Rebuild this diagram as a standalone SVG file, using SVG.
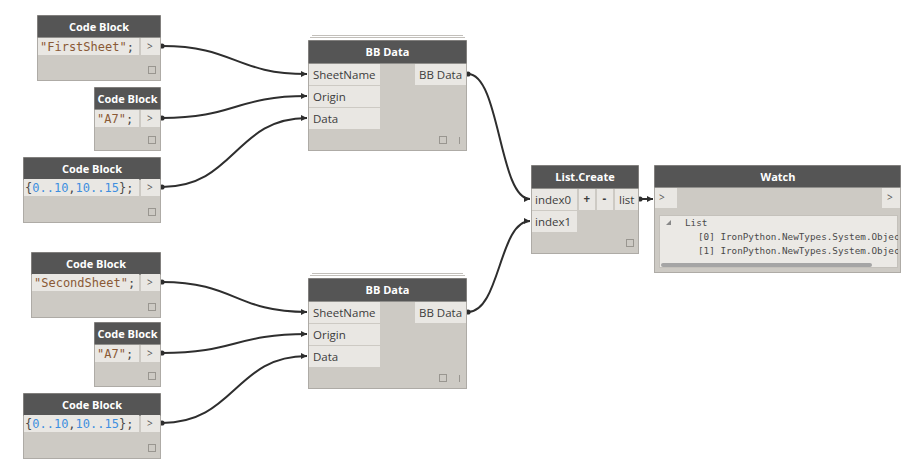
<svg xmlns="http://www.w3.org/2000/svg" width="920" height="472" viewBox="0 0 920 472">
<defs>
<style>
.body{fill:#cdcac4;stroke:#aeaba6;stroke-width:1}
.hdr{fill:#555555}
.row{fill:#e9e7e3}
.btn{fill:#e9e7e3}
.title{font-family:"Open Sans","Noto Sans",sans-serif;font-weight:700;font-size:11px;fill:#ffffff;text-anchor:middle}
.lbl{font-family:"Open Sans","Noto Sans",sans-serif;font-size:11.5px;fill:#3c3c3c}
.code{font-family:"DejaVu Sans Mono","Liberation Mono",monospace;font-size:12px;fill:#4a4a4a}
.str{fill:#8a5a36}
.num{fill:#3e8fe0}
.gt{font-family:"Open Sans","Noto Sans",sans-serif;font-size:10px;fill:#555}
.sq{fill:none;stroke:#999690;stroke-width:1}
.mono{font-family:"DejaVu Sans Mono","Liberation Mono",monospace;font-size:9.3px;fill:#4a4a4a}
.wire{fill:none;stroke:#2e2e2e;stroke-width:2}
.stack{stroke:#c2bfba;stroke-width:1}
</style>
<marker id="ms" markerWidth="6" markerHeight="6" refX="3" refY="3" markerUnits="userSpaceOnUse" orient="auto">
<circle cx="3" cy="3" r="2.6" fill="#2e2e2e"/>
</marker>
<marker id="me" markerWidth="7" markerHeight="8" refX="6" refY="4" markerUnits="userSpaceOnUse" orient="auto">
<path d="M0,1 L6,4 L0,7 Z" fill="#2e2e2e"/>
</marker>
<clipPath id="watchclip"><rect x="659" y="215" width="239" height="53"/></clipPath>
</defs>

<g id="connectors">
<path class="wire" marker-start="url(#ms)" marker-end="url(#me)" d="M162,46 C235,46 235,74 307,74"/>
<path class="wire" marker-start="url(#ms)" marker-end="url(#me)" d="M162,118 C235,118 235,96 307,96"/>
<path class="wire" marker-start="url(#ms)" marker-end="url(#me)" d="M162,187 C235,187 235,118 307,118"/>
<path class="wire" marker-start="url(#ms)" marker-end="url(#me)" d="M162,282 C235,282 235,312 307,312"/>
<path class="wire" marker-start="url(#ms)" marker-end="url(#me)" d="M162,353 C235,353 235,334 307,334"/>
<path class="wire" marker-start="url(#ms)" marker-end="url(#me)" d="M162,423 C235,423 235,356 307,356"/>
<path class="wire" marker-start="url(#ms)" marker-end="url(#me)" d="M468,74 C500,74 499,199 530,199"/>
<path class="wire" marker-start="url(#ms)" marker-end="url(#me)" d="M468,312 C500,312 499,221 530,221"/>
<path class="wire" marker-start="url(#ms)" marker-end="url(#me)" d="M640,199 L653,199"/>
</g>

<g id="cb1">
<rect class="body" x="37.5" y="15.5" width="123" height="65"/>
<rect class="hdr" x="37.5" y="15.5" width="123" height="22"/>
<text class="title" x="99" y="30.5">Code Block</text>
<rect class="row" x="38" y="38" width="101" height="17"/>
<rect class="btn" x="141" y="38" width="19" height="17"/>
<text class="code" x="40" y="51"><tspan class="str">"FirstSheet"</tspan>;</text>
<text class="gt" x="147" y="50">&gt;</text>
<rect class="sq" x="148.5" y="66.5" width="7" height="7"/>
</g>

<g id="cb2">
<rect class="body" x="94.5" y="87.5" width="66" height="63"/>
<rect class="hdr" x="94.5" y="87.5" width="66" height="22"/>
<text class="title" x="127.5" y="102.5">Code Block</text>
<rect class="row" x="95" y="110" width="44" height="17"/>
<rect class="btn" x="141" y="110" width="19" height="17"/>
<text class="code" x="97" y="123"><tspan class="str">"A7"</tspan>;</text>
<text class="gt" x="147" y="122">&gt;</text>
<rect class="sq" x="148.5" y="136.5" width="7" height="7"/>
</g>

<g id="cb3">
<rect class="body" x="23.5" y="157.5" width="137" height="65"/>
<rect class="hdr" x="23.5" y="157.5" width="137" height="22"/>
<text class="title" x="92" y="172.5">Code Block</text>
<rect class="row" x="24" y="179" width="115" height="17"/>
<rect class="btn" x="141" y="179" width="19" height="17"/>
<text class="code" x="25" y="192">{<tspan class="num">0..10</tspan>,<tspan class="num">10..15</tspan>};</text>
<text class="gt" x="147" y="191">&gt;</text>
<rect class="sq" x="148.5" y="208.5" width="7" height="7"/>
</g>

<g id="cb4">
<rect class="body" x="31.5" y="252.5" width="129" height="65"/>
<rect class="hdr" x="31.5" y="252.5" width="129" height="22"/>
<text class="title" x="96" y="267.5">Code Block</text>
<rect class="row" x="32" y="274" width="107" height="17"/>
<rect class="btn" x="141" y="274" width="19" height="17"/>
<text class="code" x="34" y="287"><tspan class="str">"SecondSheet"</tspan>;</text>
<text class="gt" x="147" y="286">&gt;</text>
<rect class="sq" x="148.5" y="303.5" width="7" height="7"/>
</g>

<g id="cb5">
<rect class="body" x="94.5" y="322.5" width="66" height="64"/>
<rect class="hdr" x="94.5" y="322.5" width="66" height="22"/>
<text class="title" x="127.5" y="337.5">Code Block</text>
<rect class="row" x="95" y="345" width="44" height="17"/>
<rect class="btn" x="141" y="345" width="19" height="17"/>
<text class="code" x="97" y="358"><tspan class="str">"A7"</tspan>;</text>
<text class="gt" x="147" y="357">&gt;</text>
<rect class="sq" x="148.5" y="372.5" width="7" height="7"/>
</g>

<g id="cb6">
<rect class="body" x="23.5" y="393.5" width="137" height="65"/>
<rect class="hdr" x="23.5" y="393.5" width="137" height="22"/>
<text class="title" x="92" y="408.5">Code Block</text>
<rect class="row" x="24" y="415" width="115" height="17"/>
<rect class="btn" x="141" y="415" width="19" height="17"/>
<text class="code" x="25" y="428">{<tspan class="num">0..10</tspan>,<tspan class="num">10..15</tspan>};</text>
<text class="gt" x="147" y="427">&gt;</text>
<rect class="sq" x="148.5" y="444.5" width="7" height="7"/>
</g>

<g id="bbdata1">
<line class="stack" x1="312" y1="35.5" x2="463" y2="35.5"/>
<line class="stack" x1="310" y1="37.5" x2="465" y2="37.5"/>
<rect class="body" x="308.5" y="40.5" width="158" height="110"/>
<rect class="hdr" x="308.5" y="40.5" width="158" height="23"/>
<text class="title" x="387.5" y="56">BB Data</text>
<rect class="row" x="309" y="64" width="71" height="21"/>
<rect class="row" x="309" y="86" width="71" height="21"/>
<rect class="row" x="309" y="108" width="71" height="21"/>
<rect class="row" x="415" y="64" width="51" height="21"/>
<text class="lbl" x="313" y="79">SheetName</text>
<text class="lbl" x="313" y="101">Origin</text>
<text class="lbl" x="313" y="123">Data</text>
<text class="lbl" x="419" y="79">BB Data</text>
<rect class="sq" x="439.5" y="136.5" width="7" height="7"/>
<line x1="459.5" y1="137" x2="459.5" y2="144" stroke="#999690" stroke-width="1"/>
</g>

<g id="bbdata2">
<line class="stack" x1="312" y1="273.5" x2="463" y2="273.5"/>
<line class="stack" x1="310" y1="275.5" x2="465" y2="275.5"/>
<rect class="body" x="308.5" y="278.5" width="158" height="110"/>
<rect class="hdr" x="308.5" y="278.5" width="158" height="23"/>
<text class="title" x="387.5" y="294">BB Data</text>
<rect class="row" x="309" y="302" width="71" height="21"/>
<rect class="row" x="309" y="324" width="71" height="21"/>
<rect class="row" x="309" y="346" width="71" height="21"/>
<rect class="row" x="415" y="302" width="51" height="21"/>
<text class="lbl" x="313" y="317">SheetName</text>
<text class="lbl" x="313" y="339">Origin</text>
<text class="lbl" x="313" y="361">Data</text>
<text class="lbl" x="419" y="317">BB Data</text>
<rect class="sq" x="439.5" y="374.5" width="7" height="7"/>
<line x1="459.5" y1="375" x2="459.5" y2="382" stroke="#999690" stroke-width="1"/>
</g>

<g id="listcreate">
<rect class="body" x="531.5" y="165.5" width="107" height="88"/>
<rect class="hdr" x="531.5" y="165.5" width="107" height="23"/>
<text class="title" x="585" y="181">List.Create</text>
<rect class="row" x="532" y="189" width="45" height="21"/>
<rect class="row" x="532" y="211" width="45" height="21"/>
<rect class="btn" x="579" y="189" width="16" height="21"/>
<rect class="btn" x="597" y="189" width="16" height="21"/>
<rect class="row" x="615" y="189" width="23" height="21"/>
<text class="lbl" x="535" y="204">index0</text>
<text class="lbl" x="535" y="226">index1</text>
<text class="lbl" x="583.5" y="203" font-weight="700" font-size="10px">+</text>
<text class="lbl" x="602.5" y="203" font-weight="700" font-size="10px">-</text>
<text class="lbl" x="619" y="204">list</text>
<rect class="sq" x="626.5" y="239.5" width="7" height="7"/>
</g>

<g id="watch">
<rect class="body" x="654.5" y="165.5" width="246" height="107"/>
<rect class="hdr" x="654.5" y="165.5" width="246" height="22"/>
<text class="title" x="778" y="180.5">Watch</text>
<rect class="row" x="655" y="188" width="22" height="20"/>
<rect class="row" x="882" y="188" width="18" height="20"/>
<text class="gt" x="659" y="201">&gt;</text>
<text class="gt" x="887" y="201">&gt;</text>
<rect x="659.5" y="215.5" width="238" height="52" fill="#ebe9e5" stroke="#c4c1bb" stroke-width="1"/>
<polygon points="666,225 671,220 671,225" fill="#888"/>
<g clip-path="url(#watchclip)">
<text class="mono" x="685" y="226">List</text>
<text class="mono" x="698" y="240">[0] IronPython.NewTypes.System.Objec</text>
<text class="mono" x="698" y="254">[1] IronPython.NewTypes.System.Objec</text>
</g>
<rect x="661" y="263" width="211" height="4" rx="2" fill="#a5a5a5"/>
</g>
</svg>
